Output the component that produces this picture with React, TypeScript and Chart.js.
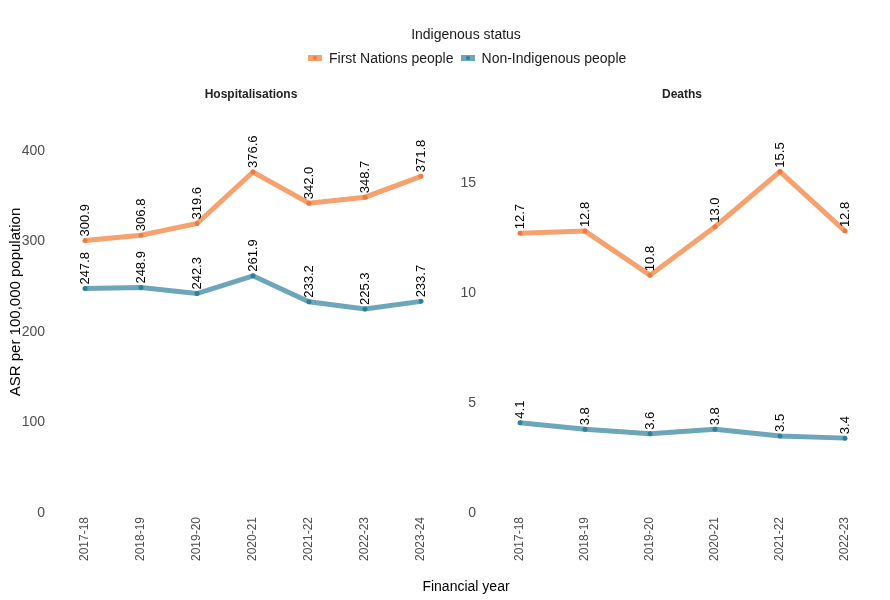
import React, { useEffect, useRef } from "react";
import { Chart, registerables } from "chart.js";

Chart.register(...registerables);

const hospYears = ["2017-18", "2018-19", "2019-20", "2020-21", "2021-22", "2022-23", "2023-24"];
const hospFirstNations = [300.9, 306.8, 319.6, 376.6, 342.0, 348.7, 371.8];
const hospNonIndigenous = [247.8, 248.9, 242.3, 261.9, 233.2, 225.3, 233.7];

const deathYears = ["2017-18", "2018-19", "2019-20", "2020-21", "2021-22", "2022-23"];
const deathFirstNations = [12.7, 12.8, 10.8, 13.0, 15.5, 12.8];
const deathNonIndigenous = [4.1, 3.8, 3.6, 3.8, 3.5, 3.4];

const seriesNames = ["First Nations people", "Non-Indigenous people"];

const FONT = "Arial, 'Liberation Sans', sans-serif";
const ORANGE_LINE = "#F5A26F";
const ORANGE_PT = "#EE7B3D";
const TEAL_LINE = "#6CA6B8";
const TEAL_PT = "#2F7F98";

const labelPlugin = {
  id: "rotLabels",
  afterDatasetsDraw(chart: any) {
    const ctx = chart.ctx;
    ctx.save();
    ctx.font = `13px ${FONT}`;
    ctx.fillStyle = "#000";
    ctx.textAlign = "left";
    ctx.textBaseline = "middle";
    chart.data.datasets.forEach((ds: any, i: number) => {
      const meta = chart.getDatasetMeta(i);
      meta.data.forEach((pt: any, j: number) => {
        const v = ds.data[j];
        ctx.save();
        ctx.translate(pt.x, pt.y - 4);
        ctx.rotate(-Math.PI / 2);
        ctx.fillText(v.toFixed(1), 0, 0);
        ctx.restore();
      });
    });
    ctx.restore();
  },
};

function makeConfig(
  labels: string[],
  fn: number[],
  ni: number[],
  yMax: number,
  step: number,
  yWidth: number,
  yPad: number,
  padRight: number
): any {
  return {
    type: "line",
    data: {
      labels,
      datasets: [
        {
          label: seriesNames[0],
          data: fn,
          borderColor: ORANGE_LINE,
          backgroundColor: ORANGE_PT,
          pointBackgroundColor: ORANGE_PT,
          pointBorderWidth: 0,
          pointRadius: 2.5,
          borderWidth: 5,
          tension: 0,
        },
        {
          label: seriesNames[1],
          data: ni,
          borderColor: TEAL_LINE,
          backgroundColor: TEAL_PT,
          pointBackgroundColor: TEAL_PT,
          pointBorderWidth: 0,
          pointRadius: 2.5,
          borderWidth: 5,
          tension: 0,
        },
      ],
    },
    options: {
      animation: false,
      responsive: false,
      maintainAspectRatio: false,
      layout: { padding: { top: 110, bottom: 0, left: 0, right: padRight } },
      plugins: {
        legend: { display: false },
        title: { display: false },
        tooltip: { enabled: false },
      },
      scales: {
        x: {
          type: "category",
          offset: false,
          border: { display: false },
          grid: { display: false, drawTicks: false },
          ticks: {
            color: "#4D4D4D",
            font: { family: FONT, size: 12 },
            minRotation: 90,
            maxRotation: 90,
            padding: 4,
            autoSkip: false,
          },
          afterFit(scale: any) {
            scale.height = 87;
          },
        },
        y: {
          min: 0,
          max: yMax,
          border: { display: false },
          grid: { display: false, drawTicks: false },
          ticks: {
            stepSize: step,
            color: "#4D4D4D",
            font: { family: FONT, size: 14 },
            padding: yPad,
          },
          afterBuildTicks(scale: any) {
            scale.ticks = scale.ticks.filter(
              (t: any) => Math.abs(t.value / step - Math.round(t.value / step)) < 1e-6
            );
          },
          afterFit(scale: any) {
            scale.width = yWidth;
          },
        },
      },
    },
    plugins: [labelPlugin],
  };
}

function Panel(props: { config: any; left: number; width: number }) {
  const ref = useRef<HTMLCanvasElement | null>(null);
  useEffect(() => {
    if (!ref.current) return;
    const chart = new Chart(ref.current, props.config);
    return () => chart.destroy();
  }, []);
  return (
    <canvas
      ref={ref}
      width={props.width}
      height={600}
      style={{ position: "absolute", left: props.left, top: 0, width: props.width, height: 600 }}
    />
  );
}

function LegendKey(props: { line: string; pt: string }) {
  return (
    <span
      style={{
        position: "relative",
        display: "inline-block",
        width: 14,
        height: 6,
        background: props.line,
        marginRight: 7,
        verticalAlign: "middle",
      }}
    >
      <span
        style={{
          position: "absolute",
          left: 5,
          top: 1,
          width: 4,
          height: 4,
          borderRadius: 2,
          background: props.pt,
        }}
      />
    </span>
  );
}

export default function App() {
  const hospCfg = makeConfig(hospYears, hospFirstNations, hospNonIndigenous, 445, 100, 85, 40, 29);
  const deathCfg = makeConfig(deathYears, deathFirstNations, deathNonIndigenous, 18.3, 5, 75, 44, 45);
  const text: React.CSSProperties = { position: "absolute", fontFamily: FONT, whiteSpace: "nowrap" };
  return (
    <div style={{ position: "absolute", left: 0, top: 0, width: 890, height: 600, background: "#fff", overflow: "hidden" }}>
      <Panel config={hospCfg} left={0} width={450} />
      <Panel config={deathCfg} left={445} width={445} />
      <div style={{ ...text, left: 0, width: 932, top: 26, textAlign: "center", fontSize: 14, color: "#1a1a1a" }}>
        Indigenous status
      </div>
      <div style={{ ...text, left: 308, top: 48, fontSize: 14, color: "#1a1a1a", lineHeight: "18px" }}>
        <LegendKey line={ORANGE_LINE} pt={ORANGE_PT} />
        <span style={{ verticalAlign: "middle", marginRight: 7 }}>{seriesNames[0]}</span>
        <LegendKey line={TEAL_LINE} pt={TEAL_PT} />
        <span style={{ verticalAlign: "middle" }}>{seriesNames[1]}</span>
      </div>
      <div style={{ ...text, left: 151, width: 200, top: 87, textAlign: "center", fontSize: 12, fontWeight: "bold", color: "#222" }}>
        Hospitalisations
      </div>
      <div style={{ ...text, left: 582, width: 200, top: 87, textAlign: "center", fontSize: 12, fontWeight: "bold", color: "#222" }}>
        Deaths
      </div>
      <div style={{ ...text, left: 366, width: 200, top: 578, textAlign: "center", fontSize: 14, color: "#000" }}>
        Financial year
      </div>
      <div
        style={{
          ...text,
          left: 15 - 110,
          top: 302 - 9,
          width: 220,
          height: 18,
          lineHeight: "18px",
          textAlign: "center",
          fontSize: 15,
          color: "#000",
          transform: "rotate(-90deg)",
          transformOrigin: "50% 50%",
        }}
      >
        ASR per 100,000 population
      </div>
    </div>
  );
}
